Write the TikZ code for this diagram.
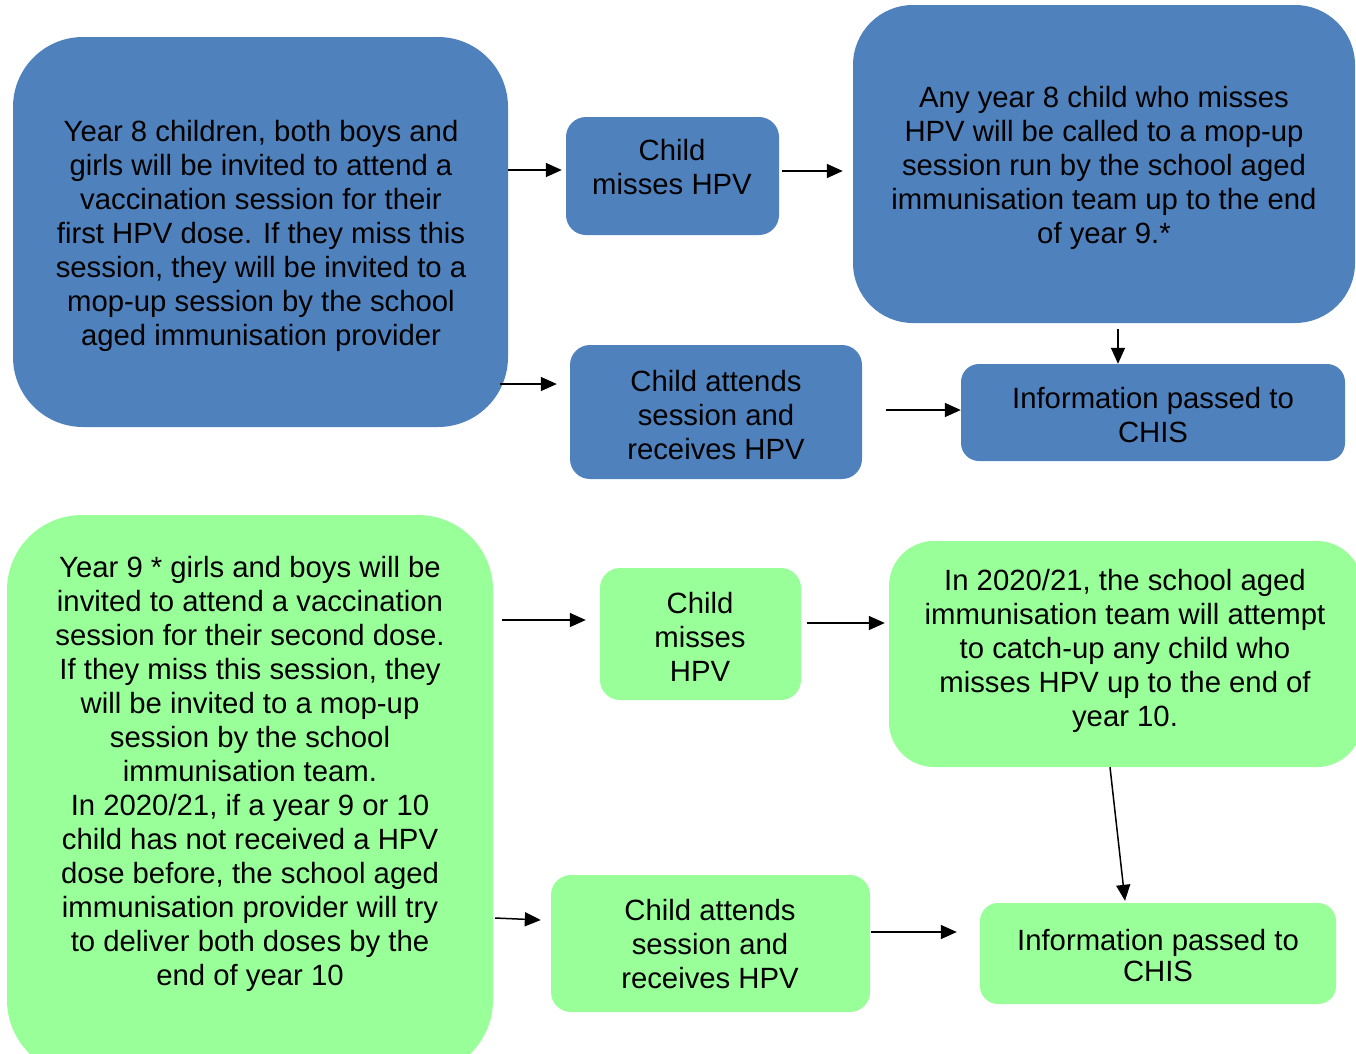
\documentclass[tikz,border=0pt]{standalone}
\usepackage{fontspec}
\setmainfont{Liberation Sans}
\usetikzlibrary{arrows.meta}
\definecolor{boxblue}{HTML}{4F81BD}
\definecolor{boxgreen}{HTML}{99FF99}
\tikzset{
  bluebox/.style={fill=boxblue, draw=none, inner sep=0pt},
  greenbox/.style={fill=boxgreen, draw=none, inner sep=0pt},
  txt/.style={align=center, inner sep=0pt, text=black, font=\fontsize{29.3}{34}\selectfont},
  arr/.style={line width=1.5pt, -{Triangle[length=16pt,width=14pt]}},
}
\begin{document}
\begin{tikzpicture}[x=1pt,y=-1pt]
\useasboundingbox (0,0) rectangle (1356,1053);
\clip (0,0) rectangle (1356,1053);
% top row (blue)
\node[bluebox, rounded corners=70pt, minimum width=495pt, minimum height=390pt] (A) at (260.5,232) {};
\node[bluebox, rounded corners=20pt, minimum width=213pt, minimum height=118pt] (B) at (672.5,176) {};
\node[bluebox, rounded corners=60pt, minimum width=502pt, minimum height=318pt] (C) at (1104,164) {};
\node[bluebox, rounded corners=20pt, minimum width=292pt, minimum height=134pt] (D) at (716,412) {};
\node[bluebox, rounded corners=18pt, minimum width=384pt, minimum height=97pt] (E) at (1153,412.5) {};
\node[txt] (At) at (261,236) {Year 8 children, both boys and\\girls will be invited to attend a\\vaccination session for their\\first HPV dose. If they miss this\\session, they will be invited to a\\mop-up session by the school\\aged immunisation provider};
\node[txt] (Bt) at (672,167) {Child\\misses HPV};
\node[txt] (Ct) at (1104,168) {Any year 8 child who misses\\HPV will be called to a mop-up\\session run by the school aged\\immunisation team up to the end\\of year 9.*};
\node[txt] (Dt) at (716,415) {Child attends\\session and\\receives HPV};
\node[txt] (Et) at (1153,415) {Information passed to\\CHIS};
% bottom row (green)
\node[greenbox, rounded corners=75pt, minimum width=486pt, minimum height=560pt] (F) at (250,795) {};
\node[greenbox, rounded corners=20pt, minimum width=201pt, minimum height=132pt] (M) at (700.5,634) {};
\node[greenbox, rounded corners=45pt, minimum width=473pt, minimum height=226pt] (G) at (1125.5,654) {};
\node[greenbox, rounded corners=20pt, minimum width=319pt, minimum height=137pt] (H) at (710.5,943.5) {};
\node[greenbox, rounded corners=18pt, minimum width=356pt, minimum height=101pt] (I) at (1158,953.5) {};
\node[txt] (Ft) at (250,774) {Year 9 * girls and boys will be\\invited to attend a vaccination\\session for their second dose.\\If they miss this session, they\\will be invited to a mop-up\\session by the school\\immunisation team.\\In 2020/21, if a year 9 or 10\\child has not received a HPV\\dose before, the school aged\\immunisation provider will try\\to deliver both doses by the\\end of year 10};
\node[txt] (Mt) at (700,637) {Child\\misses\\HPV};
\node[txt] (Gt) at (1125,651) {In 2020/21, the school aged\\immunisation team will attempt\\to catch-up any child who\\misses HPV up to the end of\\year 10.};
\node[txt] (Ht) at (710,944) {Child attends\\session and\\receives HPV};
\node[txt, font=\fontsize{29.3}{31}\selectfont] (It) at (1158,956) {Information passed to\\CHIS};
% connectors
\draw[arr] ([yshift=62pt]A.east) -- ([xshift=-4pt,yshift=6pt]B.west);
\draw[arr] ([xshift=3pt,yshift=5pt]B.east) -- ([xshift=-10pt,yshift=-7pt]C.west);
\draw[arr] ([xshift=-8pt,yshift=-152pt]A.east) -- ([xshift=-13pt,yshift=28pt]D.west);
\draw[arr] ([xshift=24pt,yshift=2pt]D.east) -- ([yshift=2.5pt]E.west);
\draw[arr] ([xshift=14pt,yshift=-6pt]C.south) -- ([xshift=-35pt]E.north);
\draw[arr] ([xshift=9pt,yshift=175pt]F.east) -- ([xshift=-14pt,yshift=14pt]M.west);
\draw[arr] ([xshift=6pt,yshift=11pt]M.east) -- ([xshift=-4pt,yshift=31pt]G.west);
\draw[arr] ([xshift=2pt,yshift=-123pt]F.east) -- ([xshift=-10pt,yshift=23.5pt]H.west);
\draw[arr] ([xshift=1pt,yshift=11.5pt]H.east) -- ([xshift=-23pt,yshift=21.5pt]I.west);
\draw[arr] ([xshift=-15.5pt]G.south) -- ([xshift=-33pt,yshift=2pt]I.north);
\end{tikzpicture}
\end{document}
